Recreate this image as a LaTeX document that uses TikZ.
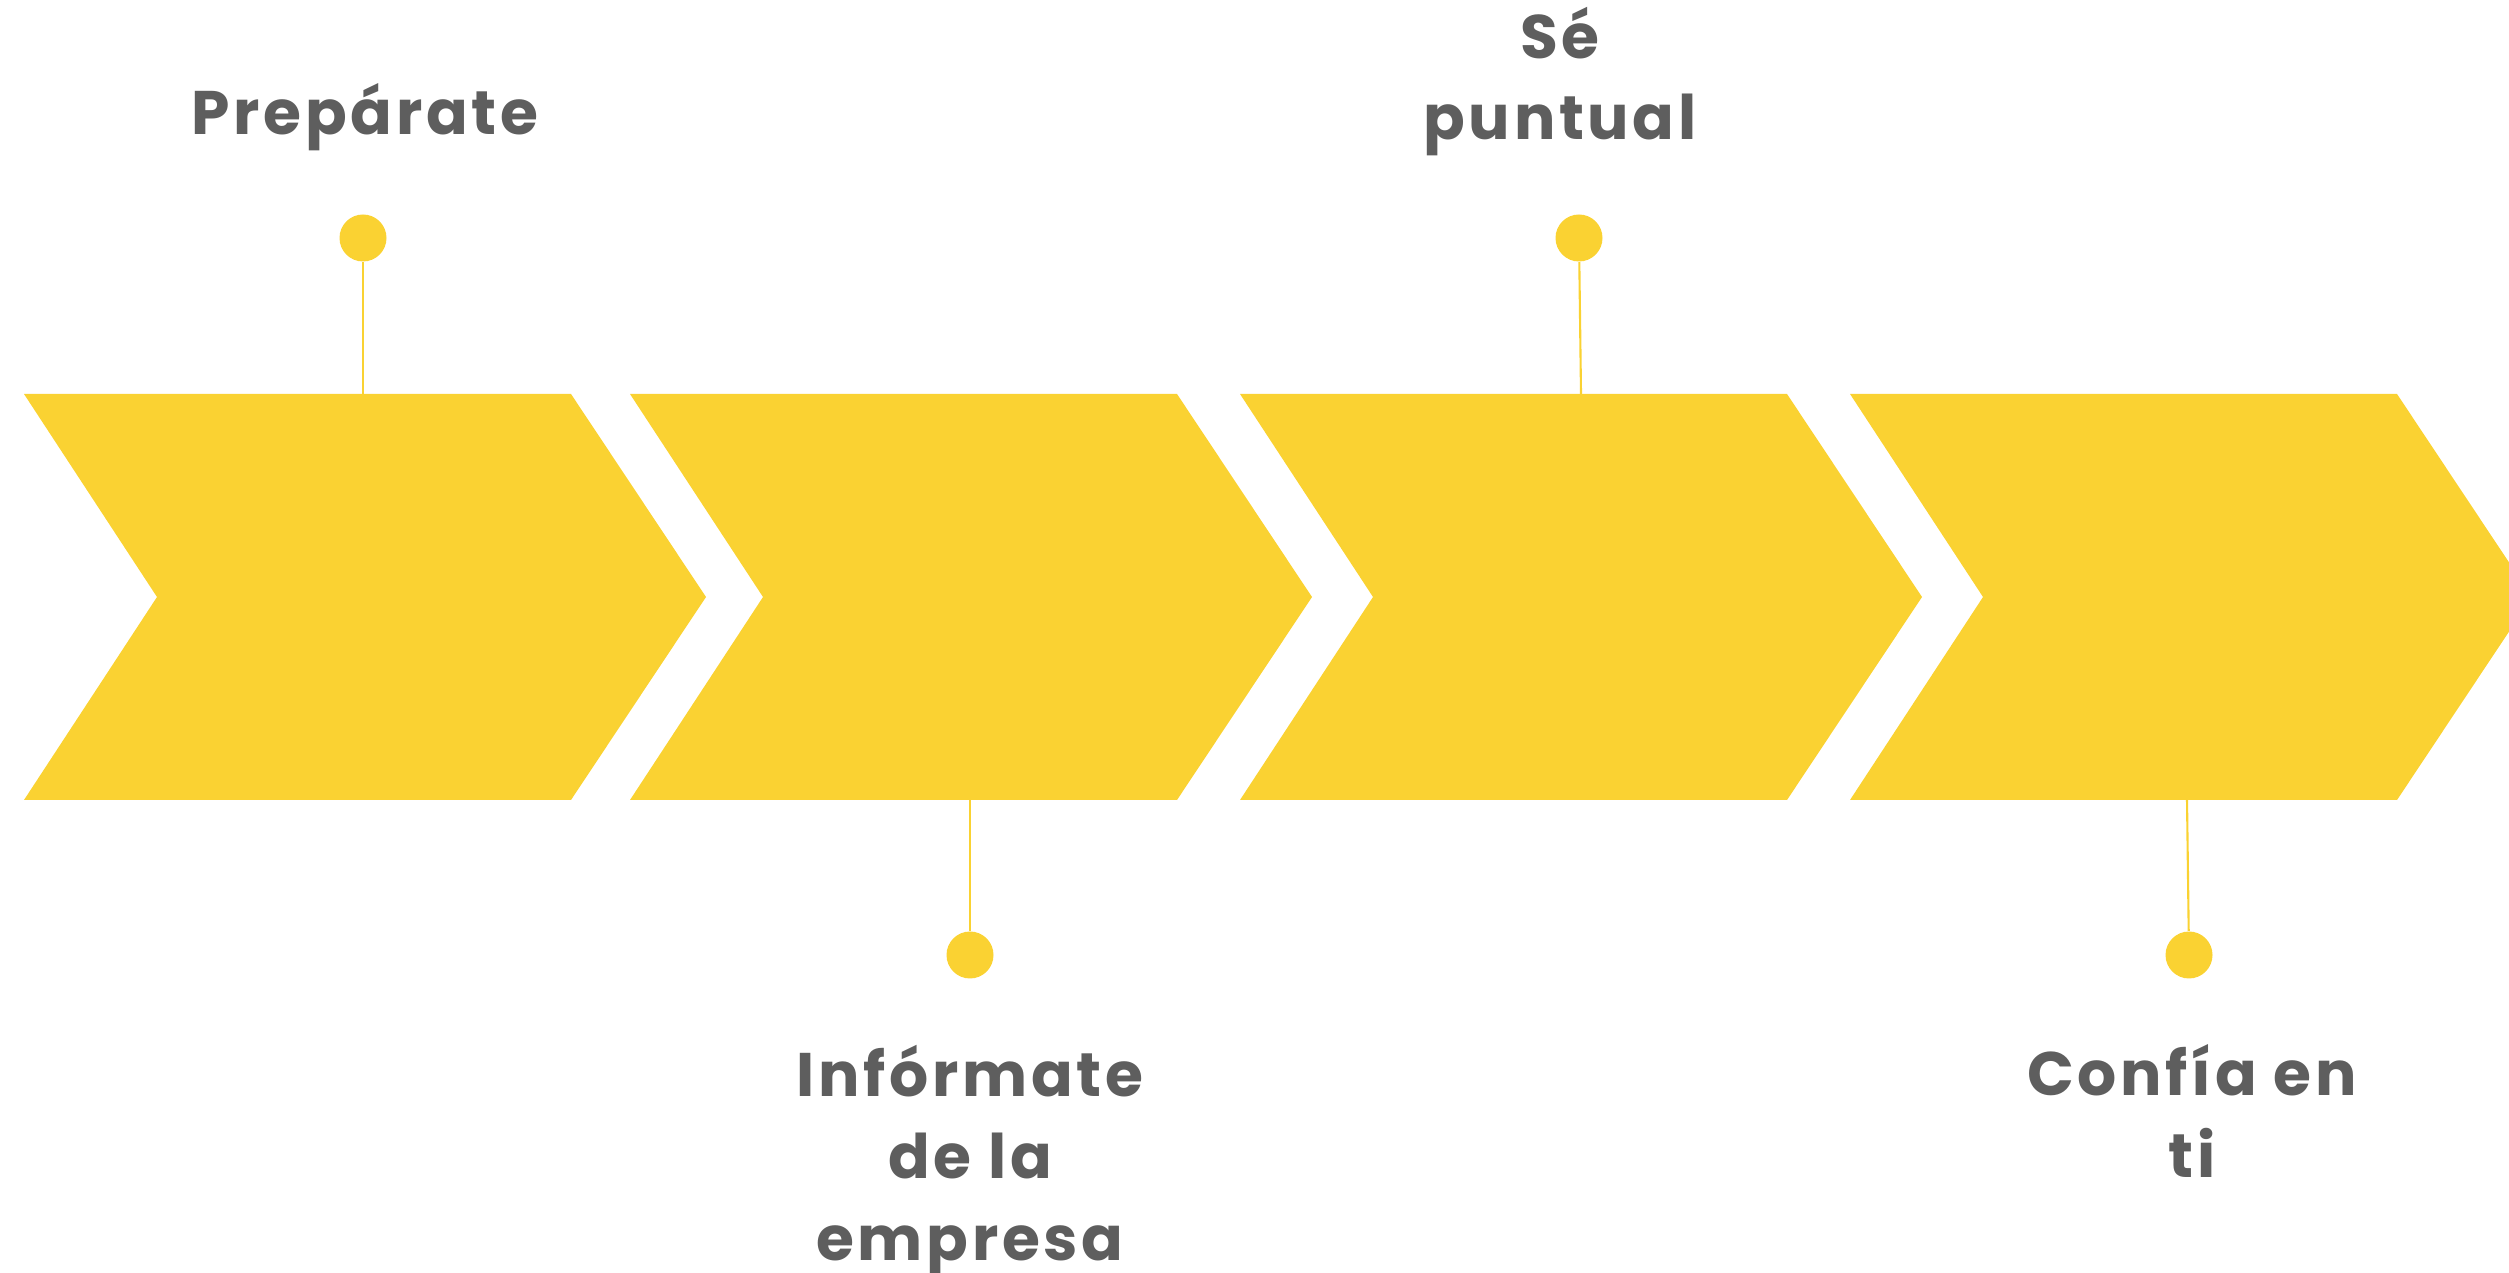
\documentclass[tikz,border=0pt]{standalone}
\usepackage{fontspec}
\newfontfamily\stepfont[LetterSpace=6]{Poppins}
\definecolor{chevyellow}{HTML}{FAD232}
\definecolor{labelgray}{HTML}{5E5E5E}

\begin{document}
\begin{tikzpicture}[x=0.1mm,y=-0.1mm,
      chev/.style={fill=chevyellow},
      pin/.style={circle,fill=chevyellow,inner sep=0pt,minimum size=4.7mm},
      stem/.style={draw=chevyellow,line width=0.6pt},
      lbl/.style={text=labelgray,font=\stepfont\bfseries\fontsize{17.5}{23.3}\selectfont,
         align=center,anchor=base,inner sep=0pt}]
      \useasboundingbox(0,0)rectangle(2509,1273);
      \clip(0,0)rectangle(2509,1273);
      % chevrons
      \foreach \x in {24,630,1240,1850}
         \fill[chev](\x,394)--++(547,0)--++(135,203)--++(-135,203)--++(-547,0)--++(133,-203)--cycle;
      \coordinate(ta)at(363,394);
      \coordinate(tb)at(970,800);
      \coordinate(tc)at(1581,394);
      \coordinate(td)at(2187,800);
      % pins
      \node[pin](pa)at(363,238){};
      \node[pin](pb)at(970,955){};
      \node[pin](pc)at(1579,238){};
      \node[pin](pd)at(2189,955){};
      \draw[stem](pa)--(ta);
      \draw[stem](pb)--(tb);
      \draw[stem](pc)--(tc);
      \draw[stem](pd)--(td);
      % labels (base = last line)
      \node[lbl](la)at(365,135){Prepárate};
      \node[lbl](lc)at(1560,140){Sé\\puntual};
      \node[lbl](lb)at(970,1260){Infórmate\\de la\\empresa};
      \node[lbl](ld)at(2192,1177){Confía en\\ti};
    \end{tikzpicture}
\end{document}
